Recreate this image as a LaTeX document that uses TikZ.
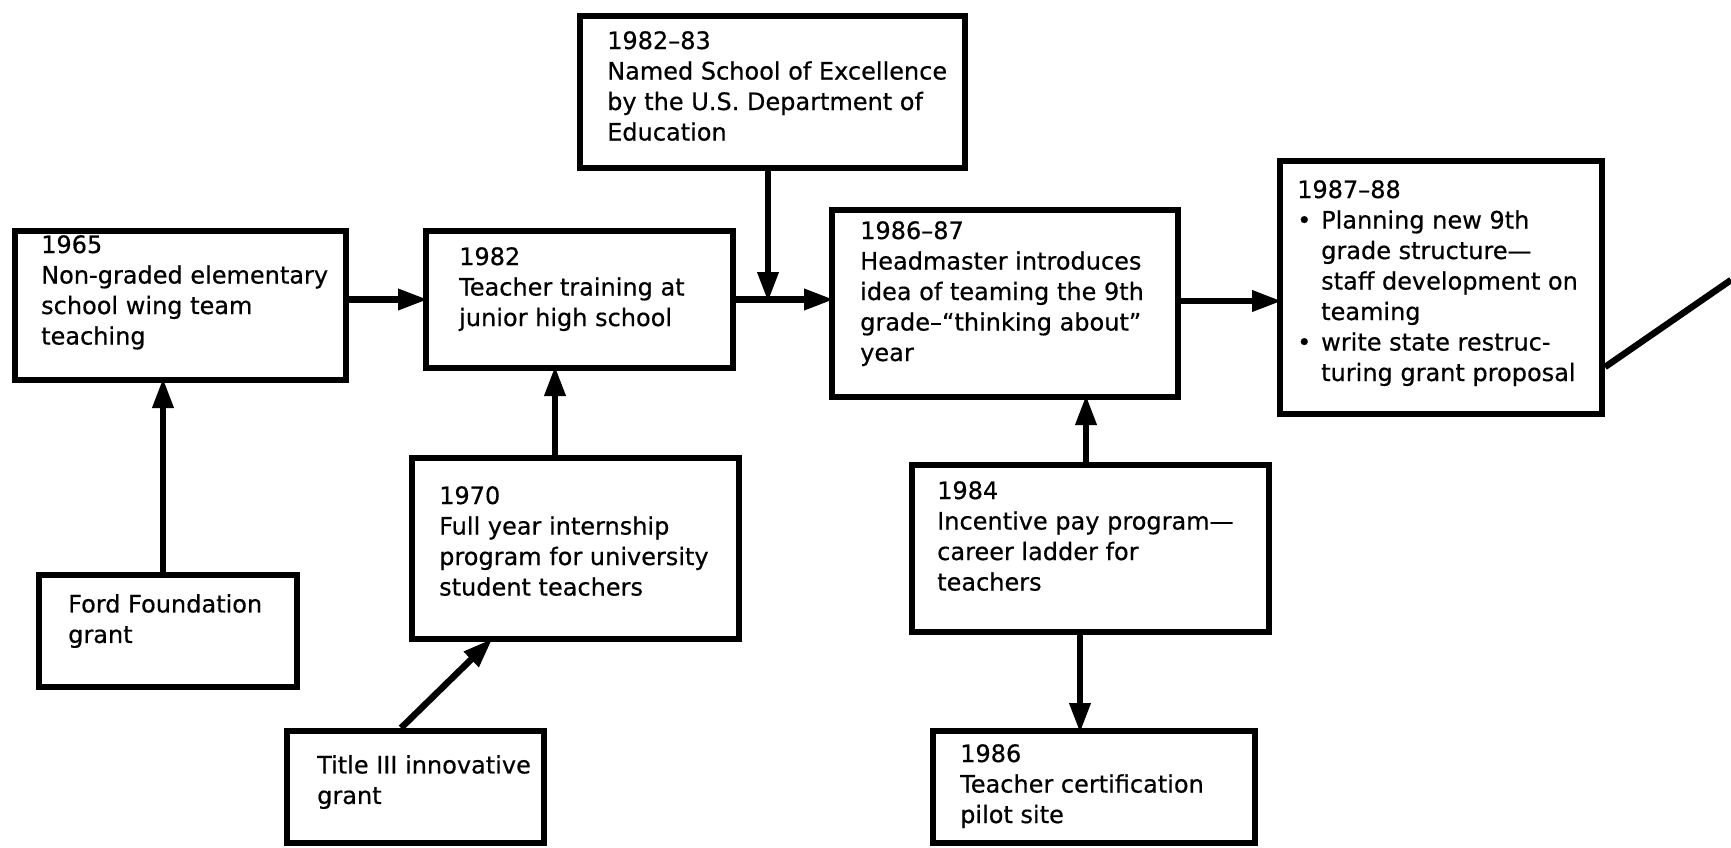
\documentclass[tikz,border=0pt]{standalone}
\usepackage{fontspec}
\setmainfont{DejaVu Sans}[FakeBold=0.5]
\usetikzlibrary{arrows.meta,calc}
\begin{document}
\begin{tikzpicture}[x=1pt,y=-1pt,
  box/.style={draw=black,line width=6pt,fill=white,inner sep=0pt},
  txt/.style={anchor=north west,inner sep=0pt,align=left,
    font=\fontsize{24}{30.5}\selectfont},
  arr/.style={line width=6.5pt,shorten >=-5pt,-{Triangle[length=30pt,width=20pt]}},
  plain/.style={line width=6.5pt}]
\useasboundingbox (0,0) rectangle (1731,848);
% boxes
\node[box,minimum width=331pt,minimum height=149pt] (b1965) at (180.5,305.5) {};
\node[box,minimum width=307pt,minimum height=137pt] (b1982) at (579.5,299.5) {};
\node[box,minimum width=385pt,minimum height=152pt] (b1983) at (772.5,92) {};
\node[box,minimum width=346pt,minimum height=187pt] (b1986) at (1005,303.5) {};
\node[box,minimum width=322pt,minimum height=253pt] (b1988) at (1441,287.5) {};
\node[box,minimum width=258pt,minimum height=112pt] (bford) at (168,631) {};
\node[box,minimum width=327pt,minimum height=181pt] (b1970) at (575.5,548.5) {};
\node[box,minimum width=257pt,minimum height=112pt] (btitle) at (415.5,787) {};
\node[box,minimum width=357pt,minimum height=167pt] (b1984) at (1090.5,548.5) {};
\node[box,minimum width=322pt,minimum height=112pt] (bcert) at (1094,787) {};
% texts
\node[txt] (t1965) at (41,235) {1965\\Non-graded elementary\\school wing team\\teaching};
\node[txt] (t1982) at (459,247) {1982\\Teacher training at\\junior high school};
\node[txt] (t1983) at (607,31) {1982–83\\Named School of Excellence\\by the U.S. Department of\\Education};
\node[txt] (t1986) at (860,221) {1986–87\\Headmaster introduces\\idea of teaming the 9th\\grade–“thinking about”\\year};
\node[txt] (t1988) at (1297,180) {1987–88\\\makebox[24pt][l]{•}Planning new 9th\\\hspace*{24pt}grade structure—\\\hspace*{24pt}staff development on\\\hspace*{24pt}teaming\\\makebox[24pt][l]{•}write state restruc-\\\hspace*{24pt}turing grant proposal};
\node[txt] (tford) at (68,594) {Ford Foundation\\grant};
\node[txt] (t1970) at (439,486) {1970\\Full year internship\\program for university\\student teachers};
\node[txt] (ttitle) at (317,755) {Title III innovative\\grant};
\node[txt] (t1984) at (937,481) {1984\\Incentive pay program—\\career ladder for\\teachers};
\node[txt] (tcert) at (960,744) {1986\\Teacher certification\\pilot site};
% connectors
\coordinate (j) at (768,297);
\coordinate (offpt) at (1731,280);
\draw[arr] (b1965.east |- b1982.west) -- (b1982.west);
\draw[arr] (b1982.east) -- (b1982.east -| b1986.west);
\draw[arr] (b1983.south -| j) -- (j);
\draw[arr] (b1986.east |- 0,301) -- (b1988.west |- 0,301);
\draw[plain] ($(b1988.east)+(0,79.5)$) -- (offpt);
\draw[arr] ([xshift=-5pt]bford.north) -- ([xshift=-5pt]bford.north |- b1965.south);
\draw[arr] ([xshift=-20.5pt]b1970.north) -- ([xshift=-20.5pt]b1970.north |- b1982.south);
\draw[arr] ([xshift=-14.5pt]btitle.north) -- ([xshift=-86.5pt]b1970.south);
\draw[arr] ([xshift=-4.5pt]b1984.north) -- ([xshift=-4.5pt]b1984.north |- b1986.south);
\draw[arr] ([xshift=-10.5pt]b1984.south) -- ([xshift=-10.5pt]b1984.south |- bcert.north);
\end{tikzpicture}
\end{document}
